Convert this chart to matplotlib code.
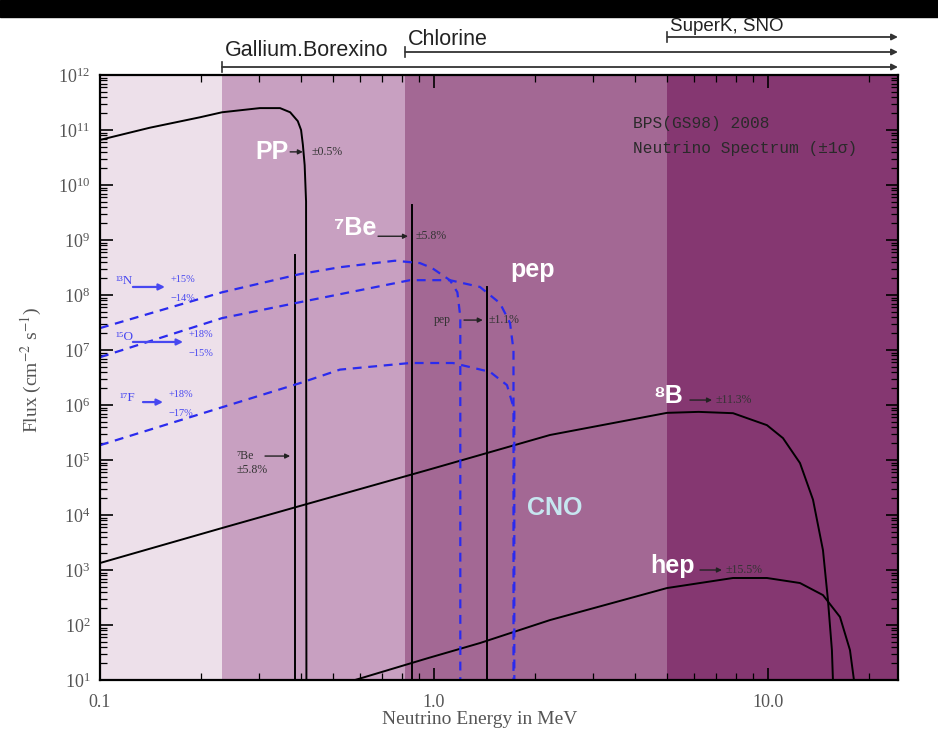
import numpy as np
import matplotlib
matplotlib.use('Agg')
import matplotlib.pyplot as plt
from matplotlib.patches import Rectangle
from matplotlib.ticker import FixedLocator, LogLocator, LogFormatterMathtext, NullFormatter

plt.rcParams['font.family'] = ['Liberation Serif', 'DejaVu Serif']
plt.rcParams['mathtext.fontset'] = 'stix'

# ---- data (MeV, cm^-2 s^-1) ----
pp_E = [0.1, 0.141, 0.199, 0.232, 0.301, 0.346, 0.371, 0.391, 0.40, 0.405, 0.41, 0.414, 0.415]
pp_F = [6.6e10, 1.1e11, 1.7e11, 2.1e11, 2.5e11, 2.5e11, 2.1e11, 1.45e11, 1.0e11, 5.4e10, 2.3e10, 5e9, 10]

b8_E = [0.1, 0.232, 0.397, 0.959, 2.225, 4.985, 6.2, 7.86, 9.93, 11.09, 12.47, 13.64, 14.61, 15.12, 15.54, 15.65]
b8_F = [1.34e3, 5.8e3, 1.46e4, 6.6e4, 2.85e5, 7.2e5, 7.5e5, 7.1e5, 4.3e5, 2.5e5, 8.8e4, 1.9e4, 2.3e3, 285, 35, 10]

hep_E = [0.58, 0.959, 1.373, 2.225, 4.985, 7.86, 9.93, 12.47, 14.61, 16.43, 17.6, 18.09]
hep_F = [10, 25, 47, 123, 470, 716, 716, 580, 350, 140, 35, 10]

n13_E = [0.1, 0.232, 0.397, 0.523, 0.764, 0.908, 0.986, 1.116, 1.175, 1.199, 1.199]
n13_F = [2.5e7, 1.12e8, 2.4e8, 3.2e8, 4.2e8, 3.8e8, 3.1e8, 1.86e8, 1.12e8, 4e7, 10]

o15_E = [0.1, 0.232, 0.397, 0.848, 1.116, 1.373, 1.576, 1.689, 1.73, 1.73]
o15_F = [7.4e6, 3.8e7, 7.4e7, 1.86e8, 1.86e8, 1.4e8, 7.1e7, 3.1e7, 1e7, 10]

f17_E = [0.1, 0.232, 0.397, 0.523, 0.848, 1.14, 1.472, 1.654, 1.74, 1.74]
f17_F = [1.86e5, 9.1e5, 2.5e6, 4.4e6, 5.8e6, 5.8e6, 4.0e6, 2.3e6, 8.1e5, 10]

line_E = [0.384, 0.862, 1.44]          # 7Be, 7Be, pep
line_F = [5.4e8, 4.4e9, 1.4e8]

band_edges = [0.1, 0.232, 0.82, 5.0, 24.5]
band_colors = ['#ede0ea', '#c8a0c1', '#a36894', '#853771']

y_ticks = [10.0 ** k for k in range(1, 13)]

fig = plt.figure(figsize=(9.38, 7.41), dpi=100)
fig.patches.append(Rectangle((0, 1 - 17 / 741), 1, 17 / 741, transform=fig.transFigure,
                             color='black', zorder=0))
ax = fig.add_axes([0.1066, 0.0823, 0.8507, 0.8165])
ax.set_xscale('log')
ax.set_yscale('log')
ax.set_xlim(0.1, 24.5)
ax.set_ylim(10, 1e12)

for i in range(len(band_colors)):
    ax.axvspan(band_edges[i], band_edges[i + 1], color=band_colors[i], lw=0, zorder=0)

# spectra
ax.plot(pp_E, pp_F, color='black', lw=1.4)
ax.plot(b8_E, b8_F, color='black', lw=1.4)
ax.plot(hep_E, hep_F, color='black', lw=1.4)
for e, f in zip(line_E, line_F):
    ax.plot([e, e], [10, f], color='black', lw=1.4)
for e, f in [(n13_E, n13_F), (o15_E, o15_F), (f17_E, f17_F)]:
    ax.plot(e, f, color='#2a2aee', lw=1.6, ls=(0, (4, 3)))

# ticks
ax.xaxis.set_major_locator(FixedLocator([0.1, 1, 10]))
ax.set_xticklabels(['0.1', '1.0', '10.0'])
ax.xaxis.set_minor_locator(LogLocator(base=10, subs=np.arange(2, 10), numticks=50))
ax.xaxis.set_minor_formatter(NullFormatter())
ax.yaxis.set_major_locator(FixedLocator(y_ticks))
ax.yaxis.set_major_formatter(LogFormatterMathtext())
ax.yaxis.set_minor_locator(LogLocator(base=10, subs=np.arange(2, 10), numticks=200))
ax.yaxis.set_minor_formatter(NullFormatter())
ax.tick_params(which='both', direction='in', top=True, right=True, color='black')
ax.tick_params(which='major', length=9, width=1.2, labelsize=13, labelcolor='#555555')
ax.tick_params(which='minor', length=5, width=0.9)
ax.tick_params(axis='x', pad=10)
ax.tick_params(axis='y', pad=7)
for s in ax.spines.values():
    s.set_linewidth(1.6)

ax.set_xlabel('Neutrino Energy in MeV', fontsize=14, color='#555555', va='center')
ax.xaxis.set_label_coords(0.476, -0.066)
ax.set_ylabel('Flux (cm$^{-2}$ s$^{-1}$)', fontsize=14, color='#555555')
ax.yaxis.set_label_coords(-0.070, 0.512)

# detector thresholds above the plot
xt = ax.get_xaxis_transform()
for name, e0, ly, ty, fs in [('Gallium.Borexino', 0.232, 1.0132, 1.0413, 15.5),
                             ('Chlorine', 0.82, 1.038, 1.0579, 15.5),
                             ('SuperK, SNO', 5.0, 1.0628, 1.0800, 13.5)]:
    ax.annotate('', xy=(24.5, ly), xytext=(e0, ly), xycoords=xt, textcoords=xt,
                arrowprops=dict(arrowstyle='-|>', color='#333333', lw=1.3, mutation_scale=9,
                                shrinkA=0, shrinkB=0), annotation_clip=False)
    ax.plot([e0, e0], [ly - 0.009, ly + 0.009], transform=xt, color='#333333', lw=1.2, clip_on=False)
    ax.text(e0 * 1.02, ty, name, transform=xt, fontsize=fs, color='#222222',
            family=['Liberation Sans', 'DejaVu Sans'], va='center', ha='left')

# big white labels
big = dict(color='white', fontsize=18, fontweight='bold', family=['Liberation Sans', 'DejaVu Sans'],
           ha='center', va='center')
ax.text(0.327, 4e10, 'PP', **big)
ax.text(0.58, 1.65e9, '⁷Be', **big)
ax.text(1.97, 2.85e8, 'pep', **big)
ax.text(5.02, 1.46e6, '⁸B', **big)
ax.text(5.19, 1.18e3, 'hep', **big)
ax.text(2.30, 1.34e4, 'CNO', color='#c6e6f0', fontsize=18, fontweight='bold',
        family=['Liberation Sans', 'DejaVu Sans'], ha='center', va='center')

# small black uncertainty labels
small = dict(fontsize=8.5, color='#333333', va='center', ha='left')
arw = dict(arrowstyle='-|>', color='#222222', lw=1.0, mutation_scale=7, shrinkA=0, shrinkB=0)
for (e1, e2, f, et, txt) in [(0.371, 0.405, 4e10, 0.431, '±0.5%'),
                             (0.680, 0.836, 1.17e9, 0.883, '±5.8%'),
                             (1.23, 1.40, 3.5e7, 1.46, '±1.1%'),
                             (5.84, 6.80, 1.23e6, 6.99, '±11.3%'),
                             (6.26, 7.28, 1.0e3, 7.49, '±15.5%'),
                             (0.312, 0.371, 1.18e5, None, None)]:
    ax.annotate('', xy=(e2, f), xytext=(e1, f), arrowprops=arw)
    if txt:
        ax.text(et, f, txt, **small)
ax.text(0.996, 3.5e7, 'pep', **small)
ax.text(0.257, 1.18e5, '⁷Be', **small)
ax.text(0.257, 6.6e4, '±5.8%', **small)

ax.text(3.94, 1.34e11, 'BPS(GS98) 2008', fontsize=11.7, color='#2a2a2a', family='Liberation Mono', va='center')
ax.text(3.94, 4.7e10, 'Neutrino Spectrum (±1σ)', fontsize=11.7, color='#2a2a2a', family='Liberation Mono', va='center')

# CNO labels
blue = '#4848f0'
barw = dict(arrowstyle='-|>', color=blue, lw=1.6, mutation_scale=9, shrinkA=0, shrinkB=0)
for (nm, en, fl, e1, e2, fa, up, dn) in [('¹³N', 0.111, 1.8e8, 0.1255, 0.1565, 1.4e8, '+15%', '−14%'),
                                           ('¹⁵O', 0.111, 1.72e7, 0.1255, 0.1773, 1.4e7, '+18%', '−15%'),
                                           ('¹⁷F', 0.1148, 1.34e6, 0.1345, 0.1544, 1.13e6, '+18%', '−17%')]:
    ax.text(en, fl, nm, fontsize=9.5, color=blue, va='center')
    ax.annotate('', xy=(e2, fa), xytext=(e1, fa), arrowprops=barw)
    ax.text(e2 * 1.04, fa * 1.35, up, fontsize=7.5, color=blue, va='center')
    ax.text(e2 * 1.04, fa / 1.6, dn, fontsize=7.5, color=blue, va='center')

fig.savefig('out.png', dpi=100)
